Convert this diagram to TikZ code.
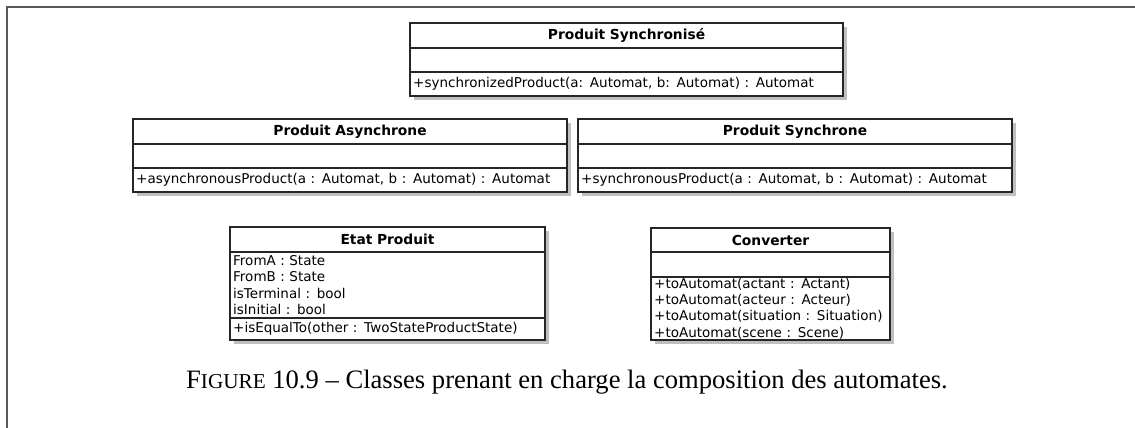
\documentclass[tikz,border=0pt]{standalone}
\usepackage{fontspec}
\setmainfont{Liberation Serif}
\newfontfamily\umlfont{DejaVu Sans}
\hyphenpenalty=10000
\exhyphenpenalty=10000
\usetikzlibrary{positioning,shadows}
\tikzset{
    uml/.style={draw=black!85,line width=0.6pt,fill=white,outer sep=0pt,
                inner xsep=1.6pt,inner ysep=0pt,
                drop shadow={shadow xshift=1.8pt,shadow yshift=-1.8pt,fill=black!25,opacity=1}},
    classname/.style={uml,align=center,font=\umlfont\bfseries\fontsize{6.9}{8.1}\selectfont},
    classpart/.style={uml,align=left,font=\umlfont\fontsize{6.75}{8.1}\selectfont}
}

\begin{document}
\begin{tikzpicture}[x=0.5pt,y=-0.5pt]
\useasboundingbox (0,0) rectangle (1135,428);

% Cadre
\draw[black!65,line width=0.6pt] (1135,7) -- (7,7) -- (7,428);

% Produit Synchronise
\node[classname,text width=213.3pt,minimum height=12.5pt,anchor=north west] (synchro) at (410,23) {Produit Synchronisé};
\node[classpart,text width=213.3pt,minimum height=12pt,below=0pt of synchro] (synchro-attr) {};
\node[classpart,text width=213.3pt,minimum height=12pt,below=0pt of synchro-attr] (synchro-ops) {+synchronizedProduct(a: Automat, b: Automat) : Automat};

% Produit Asynchrone
\node[classname,text width=213.8pt,minimum height=12.5pt,anchor=north west] (async) at (133,119) {Produit Asynchrone};
\node[classpart,text width=213.8pt,minimum height=12pt,below=0pt of async] (async-attr) {};
\node[classpart,text width=213.8pt,minimum height=12pt,below=0pt of async-attr] (async-ops) {+asynchronousProduct(a : Automat, b : Automat) : Automat};

% Produit Synchrone
\node[classname,text width=213.8pt,minimum height=12.5pt,anchor=north west] (sync) at (578,119) {Produit Synchrone};
\node[classpart,text width=213.8pt,minimum height=12pt,below=0pt of sync] (sync-attr) {};
\node[classpart,text width=213.8pt,minimum height=12pt,below=0pt of sync-attr] (sync-ops) {+synchronousProduct(a : Automat, b : Automat) : Automat};

% Etat Produit
\node[classname,text width=154.3pt,minimum height=12.5pt,anchor=north west] (etat) at (230,227) {Etat Produit};
\node[classpart,text width=154.3pt,minimum height=33pt,below=0pt of etat] (etat-attr) {FromA : State\\FromB : State\\isTerminal : bool\\isInitial : bool};
\node[classpart,text width=154.3pt,minimum height=11pt,below=0pt of etat-attr] (etat-ops) {+isEqualTo(other : TwoStateProductState)};

% Converter
\node[classname,text width=116.3pt,minimum height=12pt,anchor=north west] (conv) at (651,228) {Converter};
\node[classpart,text width=116.3pt,minimum height=12.5pt,below=0pt of conv] (conv-attr) {};
\node[classpart,text width=116.3pt,minimum height=31.5pt,below=0pt of conv-attr] (conv-ops) {+toAutomat(actant : Actant)\\+toAutomat(acteur : Acteur)\\+toAutomat(situation : Situation)\\+toAutomat(scene : Scene)};

% Legende
\node[font=\fontsize{13.3}{15}\selectfont] (legende) at (567,382) {F{\fontsize{10.6}{12}\selectfont IGURE} 10.9 -- Classes prenant en charge la composition des automates.};

\end{tikzpicture}
\end{document}
